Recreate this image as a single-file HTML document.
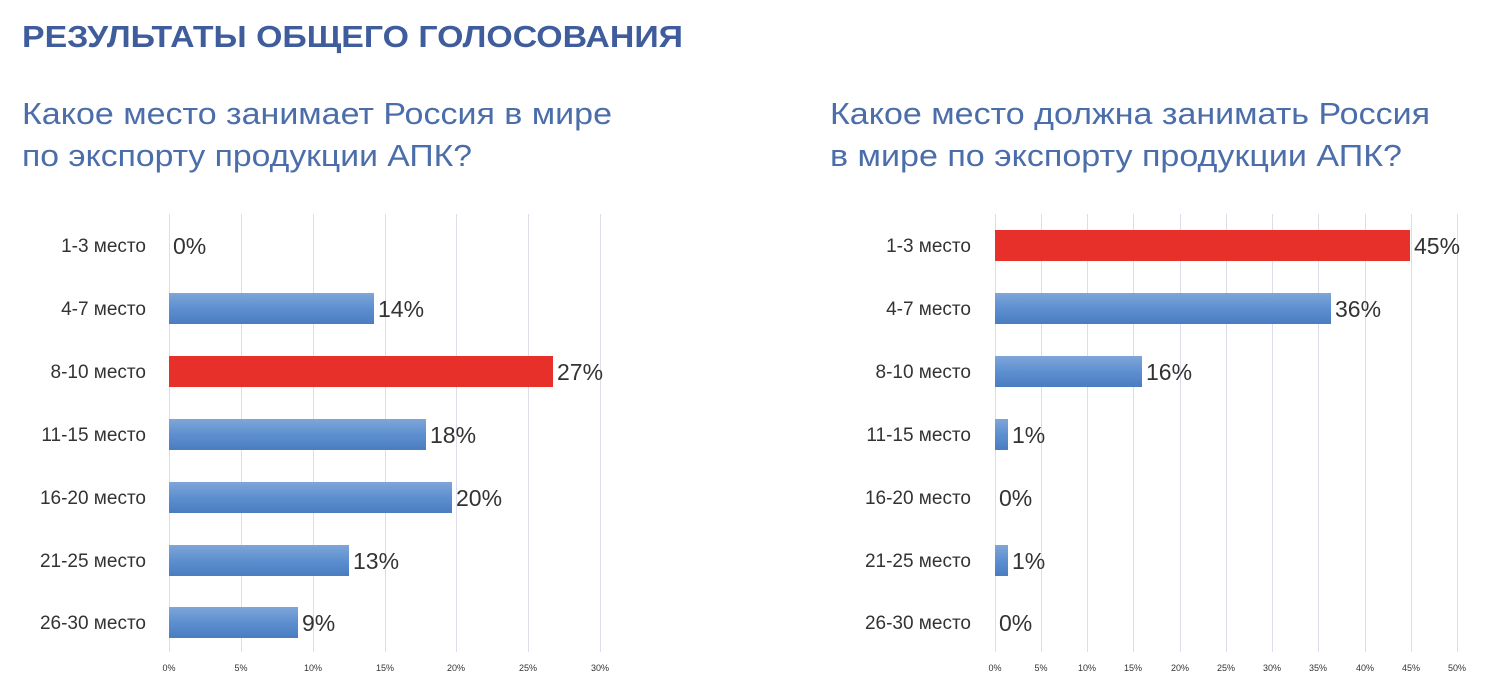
<!DOCTYPE html>
<html><head><meta charset="utf-8"><style>
html,body{margin:0;padding:0;background:#fff;}
svg{display:block;font-family:"Liberation Sans","DejaVu Sans",sans-serif;}
</style></head><body>
<svg width="1500" height="696" viewBox="0 0 1500 696" xmlns="http://www.w3.org/2000/svg">
<defs>
<linearGradient id="b" x1="0" y1="0" x2="0" y2="1"><stop offset="0" stop-color="#7fa6d8"/><stop offset="0.5" stop-color="#5d8fd0"/><stop offset="1" stop-color="#4a7dc0"/></linearGradient>
</defs>
<text x="22" y="47" font-size="31" font-weight="bold" fill="#3f5d9c" textLength="661" lengthAdjust="spacingAndGlyphs">РЕЗУЛЬТАТЫ ОБЩЕГО ГОЛОСОВАНИЯ</text>
<g font-size="31" fill="#4b6eab">
<text x="22" y="124" textLength="590" lengthAdjust="spacingAndGlyphs">Какое место занимает Россия в мире</text>
<text x="22" y="166" textLength="450" lengthAdjust="spacingAndGlyphs">по экспорту продукции АПК?</text>
<text x="830" y="124" textLength="600" lengthAdjust="spacingAndGlyphs">Какое место должна занимать Россия</text>
<text x="830" y="166" textLength="572" lengthAdjust="spacingAndGlyphs">в мире по экспорту продукции АПК?</text>
</g>
<!-- left grid -->
<g stroke="#dcdde8" stroke-width="1">
<line x1="169.5" y1="214" x2="169.5" y2="652"/><line x1="241.5" y1="214" x2="241.5" y2="652"/><line x1="313.5" y1="214" x2="313.5" y2="652"/><line x1="385.5" y1="214" x2="385.5" y2="652"/><line x1="456.5" y1="214" x2="456.5" y2="652"/><line x1="528.5" y1="214" x2="528.5" y2="652"/><line x1="600.5" y1="214" x2="600.5" y2="652"/>
</g>
<g font-size="9" fill="#333" text-anchor="middle">
<text x="169" y="671">0%</text><text x="241" y="671">5%</text><text x="313" y="671">10%</text><text x="385" y="671">15%</text><text x="456" y="671">20%</text><text x="528" y="671">25%</text><text x="600" y="671">30%</text>
</g>
<g font-size="19" fill="#333" text-anchor="end">
<text x="146" y="252">1-3 место</text><text x="146" y="315">4-7 место</text><text x="146" y="378">8-10 место</text><text x="146" y="441">11-15 место</text><text x="146" y="504">16-20 место</text><text x="146" y="567">21-25 место</text><text x="146" y="629">26-30 место</text>
</g>
<rect x="169" y="293" width="205" height="31" fill="url(#b)"/>
<rect x="169" y="356" width="384" height="31" fill="#e8302a"/>
<rect x="169" y="419" width="257" height="31" fill="url(#b)"/>
<rect x="169" y="482" width="283" height="31" fill="url(#b)"/>
<rect x="169" y="545" width="180" height="31" fill="url(#b)"/>
<rect x="169" y="607" width="129" height="31" fill="url(#b)"/>
<g font-size="23" fill="#333">
<text x="173" y="254">0%</text><text x="378" y="317">14%</text><text x="557" y="380">27%</text><text x="430" y="443">18%</text><text x="456" y="506">20%</text><text x="353" y="569">13%</text><text x="302" y="631">9%</text>
</g>
<!-- right grid -->
<g stroke="#dcdde8" stroke-width="1">
<line x1="995.5" y1="214" x2="995.5" y2="652"/><line x1="1041.5" y1="214" x2="1041.5" y2="652"/><line x1="1087.5" y1="214" x2="1087.5" y2="652"/><line x1="1133.5" y1="214" x2="1133.5" y2="652"/><line x1="1180.5" y1="214" x2="1180.5" y2="652"/><line x1="1226.5" y1="214" x2="1226.5" y2="652"/><line x1="1272.5" y1="214" x2="1272.5" y2="652"/><line x1="1318.5" y1="214" x2="1318.5" y2="652"/><line x1="1365.5" y1="214" x2="1365.5" y2="652"/><line x1="1411.5" y1="214" x2="1411.5" y2="652"/><line x1="1457.5" y1="214" x2="1457.5" y2="652"/>
</g>
<g font-size="9" fill="#333" text-anchor="middle">
<text x="995" y="671">0%</text><text x="1041" y="671">5%</text><text x="1087" y="671">10%</text><text x="1133" y="671">15%</text><text x="1180" y="671">20%</text><text x="1226" y="671">25%</text><text x="1272" y="671">30%</text><text x="1318" y="671">35%</text><text x="1365" y="671">40%</text><text x="1411" y="671">45%</text><text x="1457" y="671">50%</text>
</g>
<g font-size="19" fill="#333" text-anchor="end">
<text x="971" y="252">1-3 место</text><text x="971" y="315">4-7 место</text><text x="971" y="378">8-10 место</text><text x="971" y="441">11-15 место</text><text x="971" y="504">16-20 место</text><text x="971" y="567">21-25 место</text><text x="971" y="629">26-30 место</text>
</g>
<rect x="995" y="230" width="415" height="31" fill="#e8302a"/>
<rect x="995" y="293" width="336" height="31" fill="url(#b)"/>
<rect x="995" y="356" width="147" height="31" fill="url(#b)"/>
<rect x="995" y="419" width="13" height="31" fill="url(#b)"/>
<rect x="995" y="545" width="13" height="31" fill="url(#b)"/>
<g font-size="23" fill="#333">
<text x="1414" y="254">45%</text><text x="1335" y="317">36%</text><text x="1146" y="380">16%</text><text x="1012" y="443">1%</text><text x="999" y="506">0%</text><text x="1012" y="569">1%</text><text x="999" y="631">0%</text>
</g>
</svg>
</body></html>
